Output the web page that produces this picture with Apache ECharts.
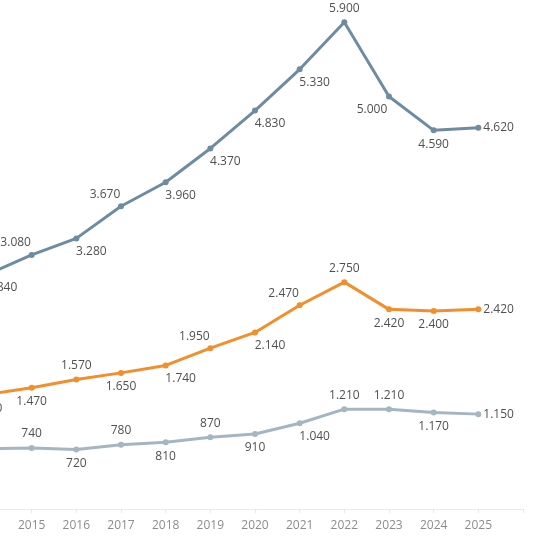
<!DOCTYPE html>
<html>
<head>
<meta charset="utf-8">
<script src="https://cdn.jsdelivr.net/npm/echarts@6/dist/echarts.min.js"></script>
<style>
  html, body { margin: 0; padding: 0; background: #fff; }
  #main { width: 538px; height: 538px; }
</style>
</head>
<body>
<div id="main"></div>
<script>
// years (last one is an empty slot at the end of the axis)
const years = ["2014", "2015", "2016", "2017", "2018", "2019", "2020", "2021", "2022", "2023", "2024", "2025", ""];

const topSeries = [2840, 3080, 3280, 3670, 3960, 4370, 4830, 5330, 5900, 5000, 4590, 4620];
const midSeries = [1390, 1470, 1570, 1650, 1740, 1950, 2140, 2470, 2750, 2420, 2400, 2420];
const lowSeries = [730, 740, 720, 780, 810, 870, 910, 1040, 1210, 1210, 1170, 1150];

// label placement per point
const topPlace = ["br", "tl", "br", "tl", "br", "br", "br", "br", "t", "bl", "b", "r"];
const midPlace = ["b", "b", "t", "b", "br", "tl", "br", "tl", "t", "b", "b", "r"];
const lowPlace = ["t", "t", "b", "t", "b", "t", "b", "br", "t", "t", "b", "r"];

function fmt(v) {
  return String(v).replace(/\B(?=(\d{3})+(?!\d))/g, ".");
}

function labelFor(p) {
  switch (p) {
    case "t": return { position: "top" };
    case "b": return { position: "bottom" };
    case "tl": return { position: "top", offset: [-16, 2] };
    case "br": return { position: "bottom", offset: [15, -1] };
    case "bl": return { position: "bottom", offset: [-17, -1] };
    case "r": return { position: "right", distance: 2 };
  }
  return {};
}

function build(values, places) {
  return values.map(function(v, i) {
    return { value: v, label: labelFor(places[i]) };
  });
}

function line(name, values, places, color) {
  return {
    name: name,
    type: "line",
    data: build(values, places),
    symbol: "circle",
    symbolSize: 6,
    lineStyle: { color: color, width: 3 },
    itemStyle: { color: color },
    label: {
      show: true,
      color: "#505050",
      fontSize: 12,
      fontFamily: "Open Sans",
      formatter: function(p) { return fmt(p.value); }
    },
    emphasis: { disabled: true },
    animation: false
  };
}

const myChart = echarts.init(document.getElementById("main"));
myChart.setOption({
  backgroundColor: "#fff",
  grid: { left: -13, right: 15, top: 14, bottom: 29, outerBoundsMode: "none", containLabel: false },
  xAxis: {
    type: "category",
    data: years,
    boundaryGap: false,
    axisLine: { lineStyle: { color: "#e8e8e8" } },
    axisTick: { show: true, lineStyle: { color: "#e8e8e8" }, length: 4 },
    axisLabel: { color: "#8c8c8c", fontSize: 12, fontFamily: "Open Sans", margin: 11, showMinLabel: false }
  },
  yAxis: {
    type: "value",
    min: 0,
    max: 6000,
    show: false,
    splitLine: { show: false }
  },
  series: [
    line("low", lowSeries, lowPlace, "#a4b6c2"),
    line("mid", midSeries, midPlace, "#f28e2b"),
    line("top", topSeries, topPlace, "#6e8ca1")
  ]
});
</script>
</body>
</html>
